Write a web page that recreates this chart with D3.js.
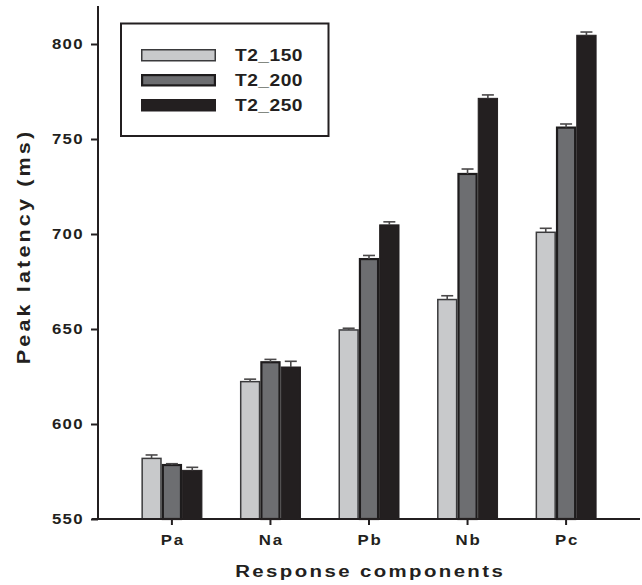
<!DOCTYPE html>
<html>
<head>
<meta charset="utf-8">
<script src="https://cdn.jsdelivr.net/npm/d3@7"></script>
<style>
  html, body { margin: 0; padding: 0; background: #fff; }
  svg { display: block; font-family: "Liberation Sans", Arial, sans-serif; font-weight: bold; }
</style>
</head>
<body>
<svg id="chart" width="642" height="585"></svg>
<script>
// Response components along the x axis
const components = ["Pa", "Na", "Pb", "Nb", "Pc"];
// Stimulus conditions (one bar each per component)
const seriesNames = ["T2_150", "T2_200", "T2_250"];
// Mean peak latency (ms) per condition, in component order
const t2_150 = [581.9, 622.3, 649.5, 665.5, 700.9];
const t2_200 = [578.4, 632.5, 686.8, 731.6, 756.0];
const t2_250 = [575.6, 630.0, 704.8, 771.4, 804.6];
// Standard errors (drawn upward only)
const err_150 = [1.8, 1.3, 0.9, 2.0, 2.1];
const err_200 = [0.7, 1.5, 1.9, 2.6, 1.9];
const err_250 = [1.6, 3.0, 1.6, 1.8, 1.7];
// Y axis ticks
const yTicks = [550, 600, 650, 700, 750, 800];

const series = [
  { name: seriesNames[0], values: t2_150, errs: err_150, fill: "#c8c9cb", stroke: "#3a3a3c", sw: 1.5 },
  { name: seriesNames[1], values: t2_200, errs: err_200, fill: "#6d6e71", stroke: "#1e1c1d", sw: 2.2 },
  { name: seriesNames[2], values: t2_250, errs: err_250, fill: "#231f20", stroke: "#231f20", sw: 1 }
];

const ink = "#231f20";
const sx = 1.2; // horizontal widening of the lettering
const svg = d3.select("#chart");

const plotLeft = 98, plotRight = 640, plotTop = 6, plotBottom = 519;

const x0 = d3.scaleBand().domain(components).range([plotLeft, plotRight])
  .paddingInner(0).paddingOuter(0.25);
const groupW = 61;
const x1 = d3.scaleBand().domain(seriesNames).range([-groupW / 2, groupW / 2]);
const y = d3.scaleLinear().domain([550, 820]).range([plotBottom, plotTop]);

// Bars
const groups = svg.append("g").selectAll("g")
  .data(components)
  .join("g")
  .attr("transform", d => `translate(${x0(d) + x0.bandwidth() / 2},0)`);

series.forEach(s => {
  groups.append("rect")
    .attr("x", () => x1(s.name) + s.sw / 2)
    .attr("width", x1.bandwidth() - s.sw)
    .attr("y", (d, i) => y(s.values[i]))
    .attr("height", (d, i) => plotBottom - y(s.values[i]))
    .attr("fill", s.fill)
    .attr("stroke", s.stroke)
    .attr("stroke-width", s.sw);
});

// Error bars (upper half)
series.forEach(s => {
  const eg = groups.append("g").attr("stroke", "#4a4849").attr("stroke-width", 1.6);
  eg.append("line")
    .attr("x1", () => x1(s.name) + x1.bandwidth() / 2)
    .attr("x2", () => x1(s.name) + x1.bandwidth() / 2)
    .attr("y1", (d, i) => y(s.values[i]))
    .attr("y2", (d, i) => y(s.values[i] + s.errs[i]));
  eg.append("line")
    .attr("x1", () => x1(s.name) + x1.bandwidth() / 2 - 6)
    .attr("x2", () => x1(s.name) + x1.bandwidth() / 2 + 6)
    .attr("y1", (d, i) => y(s.values[i] + s.errs[i]))
    .attr("y2", (d, i) => y(s.values[i] + s.errs[i]));
});

// Y axis
const yAxis = d3.axisLeft(y).tickValues(yTicks).tickSize(7).tickPadding(7).tickFormat(d3.format("d"));
const gy = svg.append("g").attr("transform", `translate(${plotLeft},0)`).call(yAxis);
gy.select(".domain").attr("stroke", ink).attr("stroke-width", 2).attr("d", `M0,${plotTop}V${plotBottom}`);
gy.selectAll(".tick line").attr("stroke", ink).attr("stroke-width", 2);
gy.selectAll(".tick text")
  .attr("fill", ink)
  .attr("x", -15.5 / sx)
  .attr("dx", "1px")
  .attr("transform", `scale(${sx},1)`)
  .style("font-size", "14px")
  .style("font-weight", "bold")
  .style("letter-spacing", "1px")
  .style("font-family", "'Liberation Sans', Arial, sans-serif");

// X axis
const xAxis = d3.axisBottom(x0).tickSize(6).tickPadding(10);
const gx = svg.append("g").attr("transform", `translate(0,${plotBottom})`).call(xAxis);
gx.select(".domain").attr("stroke", ink).attr("stroke-width", 2).attr("d", `M${plotLeft - 6},0H${plotRight}`);
gx.selectAll(".tick line").attr("stroke", ink).attr("stroke-width", 2);
gx.selectAll(".tick text")
  .attr("fill", ink)
  .attr("dx", "0.75px")
  .attr("transform", `scale(${sx},1)`)
  .style("font-size", "14px")
  .style("font-weight", "bold")
  .style("letter-spacing", "1.5px")
  .style("font-family", "'Liberation Sans', Arial, sans-serif");

// Widened text helper: anchor point, then horizontal scale
function wideText(parent, x, yPos, txt, size, spacing, anchor, rotate) {
  const g = parent.append("g")
    .attr("transform", `translate(${x},${yPos})` + (rotate ? ` rotate(${rotate})` : ""));
  return g.append("text")
    .attr("transform", `scale(${sx},1)`)
    .attr("text-anchor", anchor)
    .attr("dx", anchor === "middle" ? spacing / 2 : 0)
    .attr("fill", ink)
    .style("font-size", size + "px")
    .style("letter-spacing", spacing + "px")
    .text(txt);
}

// Axis titles
wideText(svg, (plotLeft + plotRight) / 2, 577, "Response components", 17, 2.0, "middle");
wideText(svg, 30, 248, "Peak latency (ms)", 18, 2.6, "middle", -90);

// Legend
const lg = svg.append("g");
lg.append("rect")
  .attr("x", 121).attr("y", 23.5).attr("width", 207.5).attr("height", 112.5)
  .attr("fill", "#fff").attr("stroke", ink).attr("stroke-width", 2);
series.forEach((s, i) => {
  const cy = 55 + i * 25;
  lg.append("rect")
    .attr("x", 141 + s.sw / 2).attr("y", cy - 6 + s.sw / 2)
    .attr("width", 75 - s.sw).attr("height", 12.5 - s.sw)
    .attr("fill", s.fill).attr("stroke", s.stroke).attr("stroke-width", s.sw);
  wideText(lg, 235, cy + 6, s.name, 16, 0.4, "start");
});
</script>
</body>
</html>
